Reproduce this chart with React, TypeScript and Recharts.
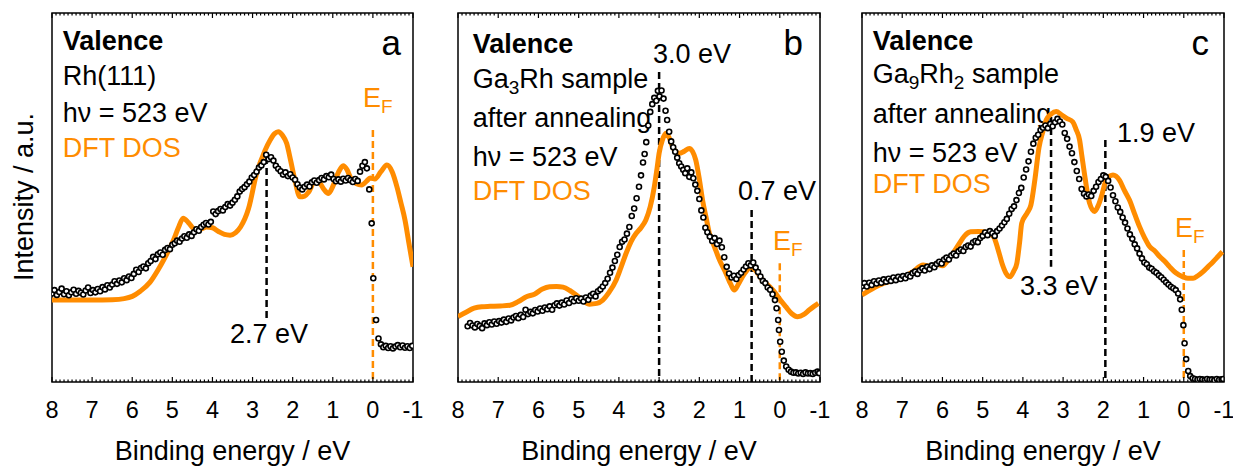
import React from 'react';
import { ComposedChart, Line, XAxis, YAxis, ReferenceLine, ReferenceArea } from 'recharts';

const ORANGE = '#ff8c00';
const FONT = '"Liberation Sans", Arial, sans-serif';
const PLOT_TOP = 13;
const PLOT_BOTTOM = 382;
const FS = 27;

// binding energy ticks (eV), axis runs 8 -> -1
const majorTicks = [8, 7, 6, 5, 4, 3, 2, 1, 0, -1];
const minorTicks = Array.from({ length: 91 }, (_, i) => Math.round(80 - i) / 10);

type Pt = [number, number];

// panel a: Rh(111)
const dftA: Pt[] = [
  [8.0, 22.2], [7.5, 22.2], [7.0, 22.2], [6.5, 22.3], [6.2, 22.6], [6.0, 23.2], [5.8, 24.6], [5.56, 27.0],
  [5.35, 30.5], [5.22, 33.0], [4.97, 38.5], [4.85, 41.8], [4.73, 44.4], [4.6, 43.2], [4.45, 41.5], [4.3, 41.4],
  [4.15, 42.0], [4.0, 41.8], [3.85, 40.8], [3.7, 40.0], [3.56, 39.8], [3.42, 40.5], [3.3, 42.0], [3.1, 47.0],
  [2.9, 56.5], [2.7, 62.5], [2.56, 65.6], [2.45, 67.3], [2.36, 67.8], [2.25, 66.8], [2.15, 64.7], [2.05, 60.0],
  [1.95, 55.0], [1.82, 50.2], [1.7, 50.4], [1.6, 51.5], [1.45, 54.3], [1.35, 54.2], [1.22, 52.2], [1.11, 51.1],
  [0.98, 53.5], [0.86, 56.8], [0.74, 58.6], [0.65, 57.6], [0.55, 55.2], [0.42, 53.8], [0.28, 53.4], [0.15, 54.5],
  [0.07, 55.3], [-0.05, 55.0], [-0.2, 57.0], [-0.35, 58.8], [-0.48, 57.0], [-0.6, 52.9], [-0.7, 48.5],
  [-0.8, 43.9], [-0.9, 37.5], [-1.0, 31.2],
];

const xpsA: Pt[] = [
  [8.0, 24.0], [7.94, 24.9], [7.88, 23.6], [7.82, 24.4], [7.76, 25.3], [7.7, 23.8], [7.64, 24.6], [7.58, 23.5],
  [7.52, 24.3], [7.46, 25.0], [7.4, 23.9], [7.34, 24.7], [7.28, 24.2], [7.22, 23.7], [7.16, 24.8], [7.1, 25.6],
  [7.04, 24.1], [6.98, 24.9], [6.92, 24.3], [6.86, 25.2], [6.8, 24.6], [6.74, 25.7], [6.68, 25.1], [6.62, 26.2],
  [6.56, 25.6], [6.5, 26.4], [6.44, 27.3], [6.38, 26.6], [6.32, 27.5], [6.26, 27.0], [6.2, 28.1], [6.14, 27.6],
  [6.08, 28.6], [6.02, 28.2], [5.96, 29.3], [5.9, 30.4], [5.84, 29.8], [5.78, 30.9], [5.72, 31.3], [5.66, 30.8],
  [5.6, 32.2], [5.54, 32.8], [5.48, 33.9], [5.42, 33.3], [5.36, 34.6], [5.3, 35.1], [5.24, 34.5], [5.18, 35.8],
  [5.12, 36.3], [5.06, 36.0], [5.0, 37.2], [4.94, 37.6], [4.88, 38.3], [4.82, 38.0], [4.76, 38.9], [4.7, 39.5],
  [4.64, 39.1], [4.58, 40.0], [4.52, 39.6], [4.46, 40.6], [4.4, 41.4], [4.34, 41.0], [4.28, 42.0], [4.22, 42.6],
  [4.16, 43.1], [4.1, 42.7], [4.04, 43.4], [3.98, 46.2], [3.92, 45.5], [3.86, 46.3], [3.8, 46.9], [3.74, 46.5],
  [3.68, 47.4], [3.62, 48.2], [3.56, 47.8], [3.5, 48.6], [3.44, 49.4], [3.38, 50.3], [3.32, 51.6], [3.26, 52.3],
  [3.2, 52.8], [3.14, 53.6], [3.08, 54.3], [3.02, 55.4], [2.96, 56.1], [2.9, 57.0], [2.84, 58.1], [2.78, 58.7],
  [2.72, 59.6], [2.66, 61.6], [2.6, 60.4], [2.54, 60.9], [2.48, 60.0], [2.42, 58.6], [2.36, 57.8], [2.3, 57.1],
  [2.24, 56.2], [2.18, 56.8], [2.12, 55.8], [2.06, 56.3], [2.0, 55.4], [1.94, 54.8], [1.88, 53.6], [1.82, 52.7],
  [1.76, 52.2], [1.7, 52.9], [1.64, 53.5], [1.58, 53.0], [1.52, 54.1], [1.46, 54.6], [1.4, 54.0], [1.34, 54.7],
  [1.28, 55.3], [1.22, 54.9], [1.16, 55.8], [1.1, 55.5], [1.04, 56.2], [0.98, 55.0], [0.92, 54.4], [0.86, 54.9],
  [0.8, 54.3], [0.74, 55.1], [0.68, 54.6], [0.62, 55.3], [0.56, 54.7], [0.5, 54.2], [0.44, 55.0], [0.38, 54.5],
  [0.32, 57.0], [0.26, 58.6], [0.2, 59.6], [0.15, 57.9], [0.09, 52.2], [0.03, 43.0], [-0.01, 28.1], [-0.08, 16.8],
  [-0.14, 11.8], [-0.2, 10.2], [-0.26, 9.4], [-0.32, 9.8], [-0.38, 9.2], [-0.44, 9.7], [-0.5, 9.1], [-0.56, 9.6],
  [-0.62, 10.0], [-0.68, 9.4], [-0.74, 9.9], [-0.8, 9.3], [-0.86, 9.7], [-0.92, 9.2], [-0.98, 9.8],
];

// panel b: Ga3Rh
const dftB: Pt[] = [
  [8.0, 17.7], [7.8, 18.9], [7.6, 20.0], [7.41, 20.4], [7.2, 20.5], [6.95, 20.6], [6.71, 20.8], [6.5, 21.8],
  [6.3, 23.1], [6.1, 23.8], [5.9, 25.2], [5.72, 25.8], [5.55, 25.9], [5.39, 25.7], [5.22, 24.8], [5.06, 23.6],
  [4.9, 22.2], [4.73, 21.1], [4.55, 21.3], [4.4, 22.2], [4.25, 24.2], [4.07, 27.6], [3.95, 31.0], [3.82, 34.9],
  [3.7, 38.0], [3.57, 40.3], [3.45, 41.8], [3.33, 43.9], [3.22, 47.5], [3.12, 52.9], [3.05, 58.0], [3.0, 62.0],
  [2.92, 65.5], [2.83, 67.4], [2.75, 66.2], [2.67, 63.8], [2.58, 62.4], [2.5, 62.0], [2.38, 62.5], [2.25, 63.3],
  [2.17, 62.5], [2.09, 60.2], [2.0, 55.0], [1.92, 49.3], [1.83, 44.5], [1.75, 40.3], [1.62, 36.5], [1.5, 33.1],
  [1.34, 29.5], [1.22, 26.5], [1.13, 24.9], [1.03, 26.5], [0.93, 28.5], [0.82, 30.2], [0.72, 31.2], [0.6, 30.2],
  [0.43, 27.6], [0.25, 25.8], [0.1, 24.0], [-0.03, 22.0], [-0.15, 20.4], [-0.3, 18.5], [-0.44, 17.7],
  [-0.6, 18.3], [-0.73, 19.5], [-0.85, 20.5], [-0.96, 21.3],
];

const xpsB: Pt[] = [
  [7.76, 15.1], [7.7, 16.0], [7.64, 15.3], [7.58, 14.8], [7.52, 15.7], [7.46, 15.2], [7.4, 14.6], [7.34, 15.9],
  [7.28, 15.4], [7.22, 16.2], [7.16, 15.6], [7.1, 16.4], [7.04, 15.8], [6.98, 16.5], [6.92, 16.1], [6.86, 16.9],
  [6.8, 16.3], [6.74, 17.2], [6.68, 16.7], [6.62, 17.5], [6.56, 17.9], [6.5, 17.3], [6.44, 18.2], [6.38, 17.6],
  [6.32, 19.6], [6.26, 18.4], [6.2, 19.0], [6.14, 18.6], [6.08, 19.5], [6.02, 19.1], [5.96, 19.9], [5.9, 19.3],
  [5.84, 20.2], [5.78, 19.7], [5.72, 20.5], [5.66, 19.6], [5.6, 20.8], [5.54, 21.3], [5.48, 20.7], [5.42, 21.5],
  [5.36, 21.0], [5.3, 22.1], [5.24, 21.4], [5.18, 22.5], [5.12, 21.9], [5.06, 22.7], [5.0, 22.0], [4.94, 22.6],
  [4.88, 21.8], [4.82, 22.9], [4.76, 22.3], [4.7, 23.4], [4.64, 23.9], [4.58, 23.2], [4.52, 24.6], [4.46, 25.1],
  [4.4, 25.9], [4.34, 26.8], [4.28, 28.0], [4.22, 29.6], [4.16, 31.0], [4.1, 32.8], [4.04, 34.5], [3.98, 36.6],
  [3.92, 38.0], [3.86, 38.6], [3.8, 40.2], [3.74, 42.0], [3.68, 45.0], [3.62, 47.0], [3.56, 49.8], [3.5, 52.9],
  [3.45, 56.0], [3.4, 59.5], [3.36, 61.8], [3.32, 65.0], [3.27, 69.5], [3.22, 73.2], [3.17, 75.3], [3.12, 77.0],
  [3.07, 76.2], [3.03, 78.9], [2.99, 77.4], [2.94, 79.0], [2.89, 76.8], [2.84, 73.5], [2.8, 71.0], [2.75, 67.8],
  [2.7, 65.2], [2.65, 63.6], [2.6, 62.4], [2.55, 60.8], [2.5, 59.3], [2.45, 58.4], [2.4, 57.5], [2.35, 56.6],
  [2.3, 57.9], [2.25, 55.6], [2.2, 56.8], [2.15, 55.2], [2.1, 53.5], [2.05, 51.8], [2.0, 49.6], [1.95, 46.5],
  [1.9, 44.6], [1.85, 41.8], [1.8, 40.6], [1.74, 39.4], [1.68, 38.2], [1.62, 39.0], [1.56, 37.4], [1.5, 38.3],
  [1.44, 36.5], [1.38, 33.8], [1.32, 31.2], [1.26, 29.4], [1.2, 28.3], [1.14, 28.8], [1.08, 27.9], [1.02, 29.0],
  [0.96, 29.6], [0.9, 30.5], [0.84, 31.3], [0.78, 32.2], [0.72, 31.6], [0.66, 32.4], [0.6, 31.0], [0.54, 29.8],
  [0.48, 28.6], [0.42, 27.4], [0.36, 26.8], [0.3, 25.6], [0.24, 25.0], [0.18, 23.8], [0.12, 22.2], [0.08, 20.0],
  [0.04, 16.8], [0.02, 14.1], [-0.01, 10.9], [-0.05, 8.2], [-0.1, 5.8], [-0.16, 4.2], [-0.22, 3.3], [-0.28, 2.8],
  [-0.34, 2.5], [-0.4, 2.6], [-0.46, 2.3], [-0.52, 2.5], [-0.58, 2.2], [-0.64, 2.6], [-0.7, 2.3], [-0.76, 2.4],
  [-0.82, 2.2], [-0.88, 2.5], [-0.94, 2.8], [-0.98, 2.4],
];

// panel c: Ga9Rh2
const dftC: Pt[] = [
  [8.0, 23.6], [7.75, 25.2], [7.47, 26.7], [7.2, 27.6], [6.97, 28.5], [6.75, 29.8], [6.48, 31.7], [6.3, 31.4],
  [6.15, 31.9], [6.0, 31.5], [5.8, 34.0], [5.6, 37.2], [5.45, 39.6], [5.3, 40.7], [5.1, 40.8], [4.98, 40.7],
  [4.85, 40.2], [4.73, 39.4], [4.62, 36.0], [4.52, 32.2], [4.42, 29.5], [4.32, 28.5], [4.23, 30.0], [4.15, 32.2],
  [4.08, 38.0], [4.03, 43.0], [3.9, 45.7], [3.8, 48.0], [3.7, 55.0], [3.6, 63.5], [3.5, 68.0], [3.42, 71.0],
  [3.3, 72.6], [3.17, 73.3], [3.05, 72.5], [2.92, 71.5], [2.76, 70.5], [2.68, 68.5], [2.59, 65.6], [2.53, 61.0],
  [2.47, 56.5], [2.4, 51.5], [2.34, 48.4], [2.22, 46.2], [2.12, 48.0], [2.05, 50.2], [1.93, 54.7], [1.76, 56.1],
  [1.6, 54.7], [1.48, 52.0], [1.35, 49.3], [1.22, 45.5], [1.1, 42.1], [0.97, 39.0], [0.85, 36.7], [0.72, 35.5],
  [0.6, 34.0], [0.48, 32.8], [0.35, 31.2], [0.2, 29.6], [0.02, 28.5], [-0.1, 28.1], [-0.23, 28.1], [-0.35, 28.8],
  [-0.48, 29.9], [-0.6, 31.2], [-0.73, 32.6], [-0.85, 34.0], [-0.96, 35.3],
];

const xpsC: Pt[] = [
  [8.0, 26.0], [7.94, 26.8], [7.88, 25.9], [7.82, 26.9], [7.76, 26.3], [7.7, 27.3], [7.64, 26.7], [7.58, 27.5],
  [7.52, 26.9], [7.46, 27.8], [7.4, 27.2], [7.34, 28.0], [7.28, 27.4], [7.22, 28.3], [7.16, 27.6], [7.1, 28.5],
  [7.04, 27.9], [6.98, 28.7], [6.92, 28.1], [6.86, 29.0], [6.8, 28.6], [6.74, 29.5], [6.68, 29.9], [6.62, 29.3],
  [6.56, 30.3], [6.5, 30.8], [6.44, 30.2], [6.38, 31.2], [6.32, 30.6], [6.26, 31.6], [6.2, 31.1], [6.14, 32.0],
  [6.08, 32.6], [6.02, 32.1], [5.96, 33.2], [5.9, 33.7], [5.84, 33.2], [5.78, 34.3], [5.72, 34.8], [5.66, 34.3],
  [5.6, 35.4], [5.54, 35.9], [5.48, 35.5], [5.42, 36.6], [5.36, 37.0], [5.3, 36.7], [5.24, 37.8], [5.18, 38.2],
  [5.12, 37.9], [5.06, 39.0], [5.0, 39.6], [4.94, 40.5], [4.88, 39.8], [4.82, 40.9], [4.76, 40.3], [4.7, 39.6],
  [4.64, 40.9], [4.58, 41.6], [4.52, 42.4], [4.46, 43.3], [4.4, 44.2], [4.34, 45.6], [4.28, 46.9], [4.22, 47.6],
  [4.16, 49.3], [4.1, 51.2], [4.04, 52.6], [3.98, 55.4], [3.92, 57.6], [3.86, 59.8], [3.8, 62.4], [3.74, 64.6],
  [3.68, 66.2], [3.62, 67.0], [3.56, 68.3], [3.5, 68.9], [3.44, 69.5], [3.38, 68.8], [3.32, 69.9], [3.26, 69.3],
  [3.2, 70.4], [3.14, 71.3], [3.08, 70.6], [3.02, 69.8], [2.96, 67.5], [2.9, 65.9], [2.84, 63.8], [2.78, 62.0],
  [2.72, 59.6], [2.66, 57.2], [2.6, 55.0], [2.54, 52.3], [2.48, 51.0], [2.42, 50.3], [2.36, 50.8], [2.3, 50.4],
  [2.24, 51.8], [2.18, 52.9], [2.12, 54.2], [2.06, 55.0], [2.0, 56.0], [1.94, 55.6], [1.88, 54.5], [1.82, 52.7],
  [1.76, 50.6], [1.7, 49.0], [1.64, 47.3], [1.58, 46.1], [1.52, 44.6], [1.46, 43.2], [1.4, 41.6], [1.34, 40.0],
  [1.28, 38.8], [1.22, 37.3], [1.16, 36.2], [1.1, 34.8], [1.04, 33.5], [0.98, 32.4], [0.92, 31.9], [0.86, 31.0],
  [0.8, 30.7], [0.74, 30.0], [0.68, 29.6], [0.62, 28.9], [0.56, 28.4], [0.5, 27.7], [0.44, 27.0], [0.38, 26.4],
  [0.32, 25.8], [0.26, 25.4], [0.2, 24.9], [0.14, 24.0], [0.09, 22.4], [0.05, 19.6], [0.01, 15.4], [-0.02, 10.5],
  [-0.06, 6.2], [-0.11, 3.0], [-0.16, 1.6], [-0.22, 1.0], [-0.28, 0.8], [-0.34, 0.6], [-0.4, 0.8], [-0.46, 0.7],
  [-0.52, 0.5], [-0.58, 0.8], [-0.64, 0.6], [-0.7, 0.7], [-0.76, 0.5], [-0.82, 0.8], [-0.88, 0.6], [-0.94, 0.7],
  [-0.98, 0.8],
];

// dashed markers: energy, intensity from, intensity to
type Mark = { e: number; from: number; to: number; color: string };
const marksA: Mark[] = [
  { e: 2.65, from: 61, to: 17.3, color: '#000' },
  { e: 0, from: 68.3, to: 0, color: ORANGE },
];
const marksB: Mark[] = [
  { e: 3.0, from: 84, to: 0, color: '#000' },
  { e: 0.7, from: 46.6, to: 0, color: '#000' },
  { e: 0, from: 32.2, to: 0, color: ORANGE },
];
const marksC: Mark[] = [
  { e: 3.3, from: 71.8, to: 31.2, color: '#000' },
  { e: 1.95, from: 65.6, to: 0, color: '#000' },
  { e: 0, from: 35.8, to: 0, color: ORANGE },
];

const rows = (pts: Pt[]) => pts.map(([e, v]) => ({ e, v }));

const AxisTick = (props: any) => {
  const { x, payload } = props;
  const val = payload.value;
  const major = majorTicks.some((t) => Math.abs(t - val) < 1e-6);
  const len = major ? 5 : 2.5;
  return (
    <g>
      <line x1={x} x2={x} y1={PLOT_BOTTOM} y2={PLOT_BOTTOM - len} stroke="#000" strokeWidth={1.2} />
      <line x1={x} x2={x} y1={PLOT_TOP} y2={PLOT_TOP + len} stroke="#000" strokeWidth={1.2} />
      {major && (
        <text x={x} y={418} textAnchor="middle" fontSize={23.5} fontFamily={FONT} fill="#000">
          {String(Math.round(val))}
        </text>
      )}
    </g>
  );
};

function Panel({ left, width, ml, mr, dft, xps, marks }: {
  left: number; width: number; ml: number; mr: number; dft: Pt[]; xps: Pt[]; marks: Mark[];
}) {
  return (
    <div style={{ position: 'absolute', left, top: 0 }}>
      <ComposedChart width={width} height={467} margin={{ top: PLOT_TOP, right: mr, bottom: 467 - PLOT_BOTTOM - 30, left: ml }}>
        <XAxis
          type="number"
          dataKey="e"
          domain={[-1, 8]}
          reversed
          allowDataOverflow
          ticks={minorTicks}
          interval={0}
          height={30}
          tickSize={0}
          tickMargin={0}
          axisLine={false}
          tickLine={false}
          tick={(p: any) => <AxisTick {...p} />}
        />
        <YAxis type="number" dataKey="v" domain={[0, 100]} hide allowDataOverflow />
        {marks.map((m, i) => (
          <ReferenceLine
            key={i}
            segment={[{ x: m.e, y: m.from }, { x: m.e, y: m.to }]}
            stroke={m.color}
            strokeWidth={2.5}
            strokeDasharray="7 4"
            ifOverflow="visible"
          />
        ))}
        <Line data={rows(dft)} dataKey="v" type="monotone" stroke={ORANGE} strokeWidth={5} dot={false} isAnimationActive={false} />
        <Line
          data={rows(xps)}
          dataKey="v"
          type="linear"
          stroke="none"
          dot={{ r: 2.5, stroke: '#000', strokeWidth: 1.6, fill: '#fff' }}
          isAnimationActive={false}
        />
        <ReferenceArea x1={8} x2={-1} y1={0} y2={100} fill="none" stroke="#000" strokeWidth={1.5} ifOverflow="visible" />
      </ComposedChart>
    </div>
  );
}

const T = (p: { x: number; y: number; children: React.ReactNode; color?: string; bold?: boolean; size?: number; anchor?: string }) => (
  <text x={p.x} y={p.y} fill={p.color || '#000'} fontWeight={p.bold ? 'bold' : 'normal'} fontSize={p.size || FS} textAnchor={p.anchor || 'start'}>
    {p.children}
  </text>
);

const Ef = ({ x, y }: { x: number; y: number }) => (
  <text x={x} y={y} fill={ORANGE} fontSize={FS}>
    E<tspan fontSize={19} dy={6}>F</tspan>
  </text>
);

export default function App() {
  return (
    <div style={{ position: 'absolute', left: 0, top: 0, width: 1233, height: 467, background: '#fff', fontFamily: FONT }}>
      <svg width={1233} height={467} style={{ position: 'absolute', left: 0, top: 0 }} fontFamily={FONT}>
        <text x={0} y={0} fontSize={FS} textAnchor="middle" transform="translate(33,197) rotate(-90)" fill="#000">
          Intensity / a.u.
        </text>
        {/* panel a */}
        <T x={62.7} y={50} bold>Valence</T>
        <T x={62.7} y={85}>Rh(111)</T>
        <T x={62.7} y={122}>hν = 523 eV</T>
        <T x={62.7} y={157} color={ORANGE}>DFT DOS</T>
        <T x={401} y={55} size={35} anchor="end">a</T>
        <Ef x={363} y={107} />
        <T x={230} y={343}>2.7 eV</T>
        <T x={232.5} y={460} anchor="middle">Binding energy / eV</T>
        {/* panel b */}
        <T x={472.7} y={53} bold>Valence</T>
        <text x={472.7} y={88} fontSize={FS} fill="#000">
          Ga<tspan fontSize={19} dy={6}>3</tspan><tspan dy={-6}>Rh sample</tspan>
        </text>
        <T x={472.7} y={127}>after annealing</T>
        <T x={472.7} y={166}>hν = 523 eV</T>
        <T x={472.7} y={200} color={ORANGE}>DFT DOS</T>
        <T x={803} y={55} size={35} anchor="end">b</T>
        <T x={653} y={63}>3.0 eV</T>
        <T x={738} y={200}>0.7 eV</T>
        <Ef x={773} y={250} />
        <T x={639} y={460} anchor="middle">Binding energy / eV</T>
        {/* panel c */}
        <T x={872.7} y={50} bold>Valence</T>
        <text x={872.7} y={83} fontSize={FS} fill="#000">
          Ga<tspan fontSize={19} dy={6}>9</tspan><tspan dy={-6}>Rh</tspan><tspan fontSize={19} dy={6}>2</tspan>
          <tspan dy={-6}> sample</tspan>
        </text>
        <T x={872.7} y={123}>after annealing</T>
        <T x={872.7} y={162}>hν = 523 eV</T>
        <T x={872.7} y={193} color={ORANGE}>DFT DOS</T>
        <T x={1209} y={55} size={35} anchor="end">c</T>
        <T x={1117} y={142}>1.9 eV</T>
        <T x={1020} y={295}>3.3 eV</T>
        <Ef x={1175} y={237} />
        <T x={1043} y={460} anchor="middle">Binding energy / eV</T>
      </svg>
      <Panel left={0} width={430} ml={52} mr={17} dft={dftA} xps={xpsA} marks={marksA} />
      <Panel left={430} width={410} ml={28} mr={20} dft={dftB} xps={xpsB} marks={marksB} />
      <Panel left={840} width={393} ml={22} mr={9} dft={dftC} xps={xpsC} marks={marksC} />
    </div>
  );
}
